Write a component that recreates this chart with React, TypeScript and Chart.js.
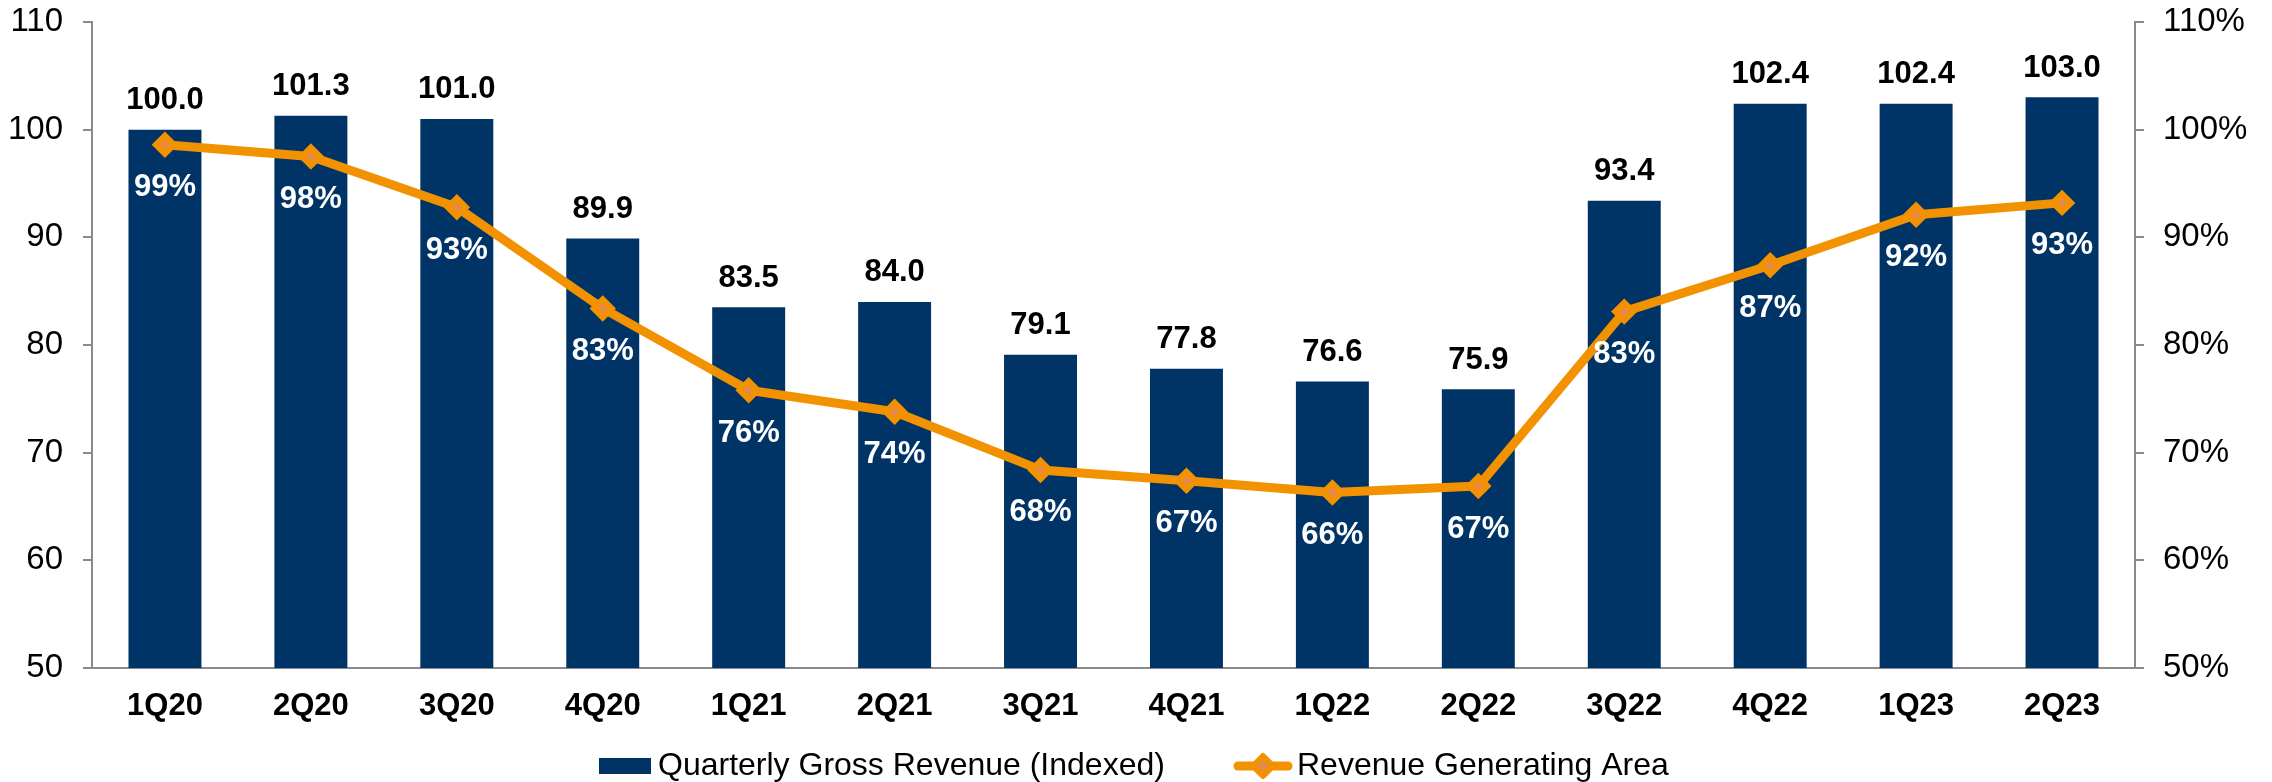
import React, { useEffect, useRef } from 'react';
import { Chart, registerables } from 'chart.js';

Chart.register(...registerables);

const categories = ['1Q20', '2Q20', '3Q20', '4Q20', '1Q21', '2Q21', '3Q21', '4Q21', '1Q22', '2Q22', '3Q22', '4Q22', '1Q23', '2Q23'];
const revenueIndexed = [100.0, 101.3, 101.0, 89.9, 83.5, 84.0, 79.1, 77.8, 76.6, 75.9, 93.4, 102.4, 102.4, 103.0];
const revenueAreaPct = [98.6, 97.5, 92.8, 83.4, 75.8, 73.8, 68.4, 67.4, 66.3, 66.9, 83.1, 87.4, 92.1, 93.2];
const revenueAreaLabels = ['99%', '98%', '93%', '83%', '76%', '74%', '68%', '67%', '66%', '67%', '83%', '87%', '92%', '93%'];
const seriesNames = ['Quarterly Gross Revenue (Indexed)', 'Revenue Generating Area'];

const BAR_COLOR = '#003366';
const ORANGE = '#F29200';
const MARKER_FILL = '#E8894C';
const AXIS_GRAY = '#8A8A8A';
const FONT = "'Liberation Sans', Arial, Helvetica, sans-serif";

const labelPlugin = {
  id: 'valueLabels',
  afterDatasetsDraw(chart: any) {
    const ctx = chart.ctx;
    ctx.save();
    ctx.font = `bold 31px ${FONT}`;
    ctx.textAlign = 'center';
    ctx.textBaseline = 'middle';
    const barMeta = chart.getDatasetMeta(1);
    barMeta.data.forEach((el: any, i: number) => {
      ctx.fillStyle = '#000000';
      ctx.fillText(revenueIndexed[i].toFixed(1), el.x, el.y - 29);
    });
    const lineMeta = chart.getDatasetMeta(0);
    lineMeta.data.forEach((el: any, i: number) => {
      ctx.fillStyle = '#FFFFFF';
      ctx.fillText(revenueAreaLabels[i], el.x, el.y + 43);
    });
    ctx.restore();
  },
  afterDraw(chart: any) {
    const ctx = chart.ctx;
    ctx.save();
    const cy = 766;
    ctx.font = `32px ${FONT}`;
    ctx.textBaseline = 'middle';
    ctx.textAlign = 'left';
    // bar legend item
    ctx.fillStyle = BAR_COLOR;
    ctx.fillRect(599, cy - 8, 52, 16);
    ctx.fillStyle = '#000000';
    ctx.fillText(seriesNames[0], 658, cy);
    // line legend item
    ctx.strokeStyle = ORANGE;
    ctx.lineWidth = 9;
    ctx.lineCap = 'round';
    ctx.beginPath();
    ctx.moveTo(1238, cy);
    ctx.lineTo(1288, cy);
    ctx.stroke();
    const mx = 1263;
    const r = 10;
    ctx.lineJoin = 'round';
    ctx.lineWidth = 6;
    ctx.fillStyle = MARKER_FILL;
    ctx.beginPath();
    ctx.moveTo(mx, cy - r);
    ctx.lineTo(mx + r, cy);
    ctx.lineTo(mx, cy + r);
    ctx.lineTo(mx - r, cy);
    ctx.closePath();
    ctx.fill();
    ctx.stroke();
    ctx.fillStyle = '#000000';
    ctx.fillText(seriesNames[1], 1297, cy);
    ctx.restore();
  },
};

export default function App() {
  const canvasRef = useRef<HTMLCanvasElement | null>(null);

  useEffect(() => {
    document.body.style.margin = '0';
    const canvas = canvasRef.current;
    if (!canvas) return;
    const fitY = (w: number) => (s: any) => {
      s.width = w;
      s.paddingTop = 0;
      s.paddingBottom = 0;
    };
    const chart = new Chart(canvas, {
      type: 'bar',
      data: {
        labels: categories,
        datasets: [
          {
            type: 'line',
            label: seriesNames[1],
            data: revenueAreaPct,
            yAxisID: 'y1',
            borderColor: ORANGE,
            borderWidth: 9,
            borderJoinStyle: 'round',
            pointStyle: 'rectRot',
            pointRadius: 9,
            pointBorderWidth: 6,
            pointBorderColor: ORANGE,
            pointBackgroundColor: MARKER_FILL,
            tension: 0,
            order: 0,
          } as any,
          {
            type: 'bar',
            label: seriesNames[0],
            data: revenueIndexed,
            yAxisID: 'y',
            backgroundColor: BAR_COLOR,
            barPercentage: 0.5,
            categoryPercentage: 1,
            order: 1,
          } as any,
        ],
      },
      options: {
        responsive: false,
        animation: false,
        devicePixelRatio: 1,
        layout: { padding: { top: 22, bottom: 50, left: 0, right: 0 } },
        plugins: {
          legend: { display: false },
          tooltip: { enabled: false },
        },
        scales: {
          x: {
            offset: true,
            grid: { display: true, drawOnChartArea: false, drawTicks: false, color: AXIS_GRAY, lineWidth: 2 },
            border: { display: true, color: AXIS_GRAY, width: 2 },
            ticks: { color: '#000000', font: { family: FONT, size: 31, weight: 'bold' }, padding: 20, maxRotation: 0, autoSkip: false },
            afterFit: (s: any) => { s.height = 64; },
          },
          y: {
            position: 'left',
            min: 50,
            max: 110,
            ticks: { stepSize: 10, color: '#000000', font: { family: FONT, size: 33 }, padding: 20 },
            grid: { drawOnChartArea: false, drawTicks: true, tickLength: 9, color: AXIS_GRAY, lineWidth: 2 },
            border: { display: true, color: AXIS_GRAY, width: 2 },
            afterFit: fitY(92),
          },
          y1: {
            position: 'right',
            min: 50,
            max: 110,
            ticks: { stepSize: 10, color: '#000000', font: { family: FONT, size: 33 }, padding: 19, callback: (v: any) => `${v}%` },
            grid: { drawOnChartArea: false, drawTicks: true, tickLength: 9, color: AXIS_GRAY, lineWidth: 2 },
            border: { display: true, color: AXIS_GRAY, width: 2 },
            afterFit: fitY(137),
          },
        },
      },
      plugins: [labelPlugin],
    });
    return () => chart.destroy();
  }, []);

  return (
    <div style={{ width: 2272, height: 782, overflow: 'hidden', background: '#ffffff' }}>
      <canvas ref={canvasRef} width={2272} height={782} style={{ display: 'block' }} />
    </div>
  );
}
